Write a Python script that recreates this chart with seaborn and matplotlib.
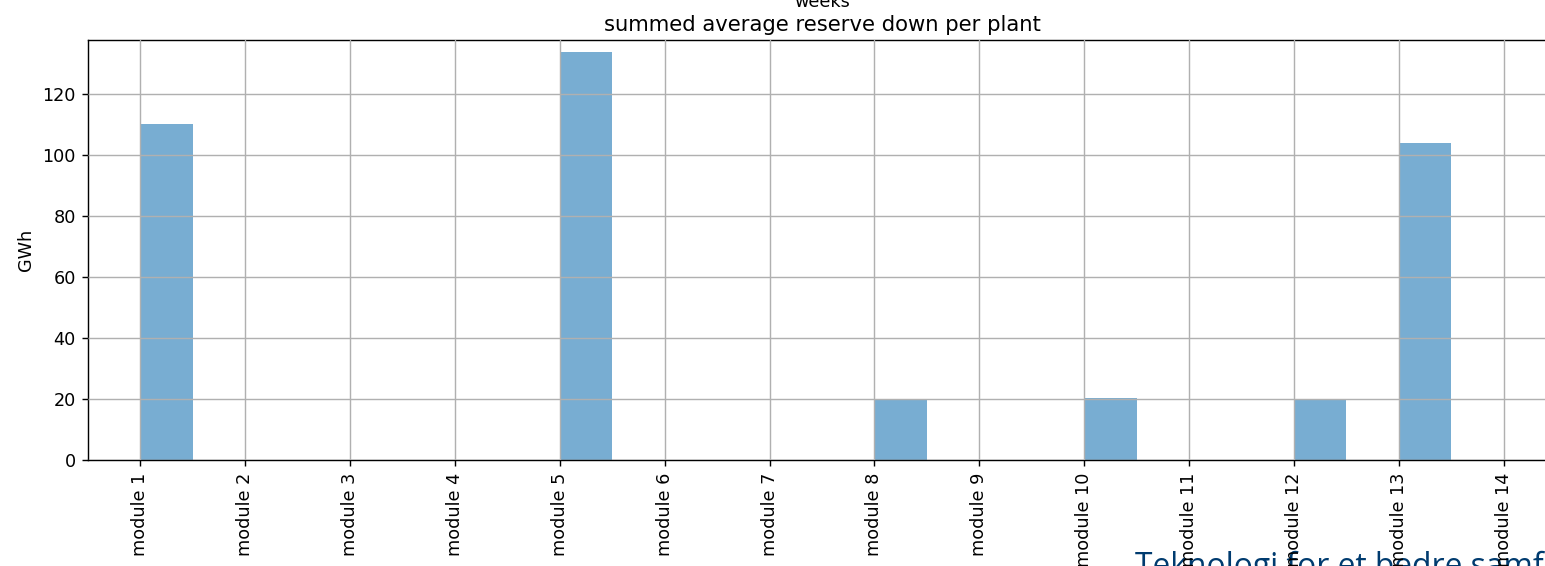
import numpy as np
import pandas as pd
import matplotlib
matplotlib.use("Agg")
import matplotlib.pyplot as plt
import seaborn as sns

# Summed average reserve down per plant (GWh)
modules = [f"module {i}" for i in range(1, 15)]
module_pos = list(range(1, 15))
reserve_down = [110.0, 0.0, 0.0, 0.0, 133.8, 0.0, 0.0, 20.0, 0.0, 20.3, 0.0, 20.0, 103.9, 0.0]

df = pd.DataFrame({"pos": module_pos, "module": modules, "gwh": reserve_down})

sns.set_style("white", {"text.color": "black", "axes.labelcolor": "black",
                        "xtick.color": "black", "ytick.color": "black"})
plt.rcParams["font.family"] = ["DejaVu Sans"]

DPI = 127
fig = plt.figure(figsize=(1545 / DPI, 566 / DPI), dpi=DPI)
ax = fig.add_axes([88 / 1545, 1 - 460 / 566, 1468 / 1545, 420 / 566])

# each module gets a half-width bar starting at its tick
sns.histplot(data=df, x="pos", weights="gwh", binwidth=0.5, binrange=(1, 14.5),
             stat="count", color="#1f77b4", alpha=0.6, linewidth=0, ax=ax)

ax.set_xlim(0.5, 14.5)
ax.set_ylim(0, 137.7)
ax.set_xticks(module_pos)
ax.set_xticklabels(modules, rotation=90, fontsize=10, color="black")
ax.set_yticks(np.arange(0, 121, 20))
ax.tick_params(axis="y", labelsize=10, left=True, length=3.5, width=0.8,
               colors="black")
ax.tick_params(axis="x", bottom=True, length=3.5, width=0.8, colors="black")
ax.grid(True, color="#b0b0b0", linewidth=0.8)
ax.set_axisbelow(False)
for s in ax.spines.values():
    s.set_visible(True)
    s.set_color("black")
    s.set_linewidth(0.8)
ax.set_xlabel("")
ax.set_ylabel("GWh", fontsize=10, color="black")
ax.set_title("summed average reserve down per plant", fontsize=12, pad=5,
             color="black")

fig.text(822 / 1545, 1 - 7 / 566, "weeks", ha="center", va="baseline",
         fontsize=10, color="black")
fig.text(1135 / 1545, 1 - 576 / 566, "Teknologi for et bedre samfunn",
         ha="left", va="baseline", fontsize=18, color="#003b6f",
         family=["Open Sans"], zorder=-1)

fig.savefig("out.png", dpi=DPI)
